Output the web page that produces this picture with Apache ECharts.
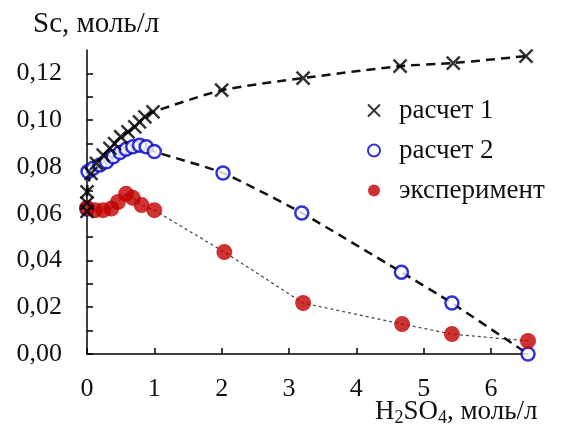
<!DOCTYPE html>
<html>
<head>
<meta charset="utf-8">
<script src="https://cdn.jsdelivr.net/npm/echarts@6/dist/echarts.min.js"></script>
<style>
  html, body { margin: 0; padding: 0; background: #fff; }
  #chart { width: 566px; height: 432px; }
</style>
</head>
<body>
<div id="chart"></div>
<script>
// расчет 1 (крестики)
var calc1X = [0, 0, 0, 0.06, 0.14, 0.24, 0.34, 0.41, 0.5, 0.61, 0.71, 0.78, 0.86, 0.98, 2.0, 3.21, 4.65, 5.44, 6.52];
var calc1Y = [0.061, 0.0645, 0.0693, 0.0772, 0.0815, 0.085, 0.0879, 0.090, 0.0929, 0.095, 0.0971, 0.0993, 0.1014, 0.1035, 0.1128, 0.118, 0.1231, 0.1244, 0.1274];
// расчет 2 (кружки)
var calc2X = [0, 0.015, 0.09, 0.19, 0.29, 0.39, 0.49, 0.58, 0.68, 0.78, 0.88, 1.0, 2.02, 3.19, 4.67, 5.42, 6.55];
var calc2Y = [0.062, 0.078, 0.0794, 0.0808, 0.0822, 0.0843, 0.0862, 0.0876, 0.0886, 0.0893, 0.0886, 0.0866, 0.0774, 0.0603, 0.035, 0.0218, 0];
// эксперимент
var expX = [0, 0.12, 0.24, 0.36, 0.46, 0.58, 0.68, 0.81, 1.0, 2.04, 3.21, 4.68, 5.42, 6.55];
var expY = [0.0625, 0.0615, 0.0615, 0.0622, 0.065, 0.0685, 0.0668, 0.0637, 0.0615, 0.0436, 0.0218, 0.0128, 0.0085, 0.0056];

var xTicks = [0, 1, 2, 3, 4, 5, 6];
var yLabels = [0, 0.02, 0.04, 0.06, 0.08, 0.10, 0.12];
var yTicks = [0, 0.01, 0.02, 0.03, 0.04, 0.05, 0.06, 0.07, 0.08, 0.09, 0.10, 0.11, 0.12];

var serif = 'Liberation Serif';
var crossPath = 'path://M0,0L10,10M10,0L0,10';

function pairs(xs, ys) {
  return xs.map(function (x, i) { return [x, ys[i]]; });
}

var chart = echarts.init(document.getElementById('chart'));
chart.setOption({
  animation: false,
  grid: { left: 87, top: 50, width: 441, height: 304 },
  legend: {
    orient: 'vertical',
    left: 362,
    top: 92,
    itemGap: 13,
    itemWidth: 12,
    itemHeight: 12,
    textStyle: { fontFamily: serif, fontSize: 27, color: '#111', padding: [0, 0, 0, 14] },
    data: [
      { name: 'расчет 1', icon: crossPath },
      { name: 'расчет 2', icon: 'circle' },
      { name: 'эксперимент', icon: 'circle' }
    ]
  },
  xAxis: {
    type: 'value',
    min: 0,
    max: 6.55,
    interval: 1,
    splitLine: { show: false },
    axisLine: { lineStyle: { color: '#000', width: 1.5 } },
    axisTick: { inside: true, length: 6, customValues: xTicks, lineStyle: { color: '#000', width: 1.5 } },
    axisLabel: { customValues: xTicks, margin: 22, fontFamily: serif, fontSize: 26, color: '#111' }
  },
  yAxis: {
    type: 'value',
    min: 0,
    max: 0.13,
    interval: 0.01,
    splitLine: { show: false },
    axisLine: { show: true, lineStyle: { color: '#000', width: 1.5 } },
    axisTick: { show: true, inside: true, length: 6, customValues: yTicks, lineStyle: { color: '#000', width: 1.5 } },
    axisLabel: {
      customValues: yLabels,
      margin: 25,
      fontFamily: serif,
      fontSize: 26,
      color: '#111',
      formatter: function (v) { return v.toFixed(2).replace('.', ','); }
    }
  },
  graphic: [
    {
      type: 'text', left: 33, top: 10,
      style: { text: 'Sc, моль/л', font: '29px "Liberation Serif"', fill: '#111' }
    },
    {
      type: 'text', left: 375, top: 398,
      style: {
        text: 'H{s|2}SO{s|4}, моль/л',
        font: '27px "Liberation Serif"',
        fill: '#111',
        rich: { s: { fontSize: 18, fontFamily: serif, padding: [13, 0, 0, 0], fill: '#111' } }
      }
    }
  ],
  series: [
    {
      type: 'line', data: pairs(calc1X, calc1Y), smooth: 0.2, symbol: 'none', silent: true,
      lineStyle: { color: '#111', width: 2.5, type: [9, 6] }, z: 1
    },
    {
      type: 'line', data: pairs(calc2X, calc2Y), smooth: 0.2, symbol: 'none', silent: true,
      lineStyle: { color: '#111', width: 2.5, type: [9, 6] }, z: 1
    },
    {
      type: 'line', data: pairs(expX, expY), symbol: 'none', silent: true,
      lineStyle: { color: '#444', width: 1.2, type: [3, 3] }, z: 1
    },
    {
      name: 'расчет 2', type: 'scatter', data: pairs(calc2X, calc2Y), symbol: 'circle', symbolSize: 13,
      itemStyle: { color: '#fff', borderColor: '#0000cc', borderWidth: 2.5 }, z: 2
    },
    {
      name: 'эксперимент', type: 'scatter', data: pairs(expX, expY), symbol: 'circle', symbolSize: 16,
      itemStyle: { color: '#c00000' }, z: 3
    },
    {
      name: 'расчет 1', type: 'scatter', data: pairs(calc1X, calc1Y), symbol: crossPath, symbolSize: 13,
      itemStyle: { color: 'rgba(0,0,0,0)', borderColor: '#000', borderWidth: 2.5 }, z: 4
    }
  ]
});
</script>
</body>
</html>
